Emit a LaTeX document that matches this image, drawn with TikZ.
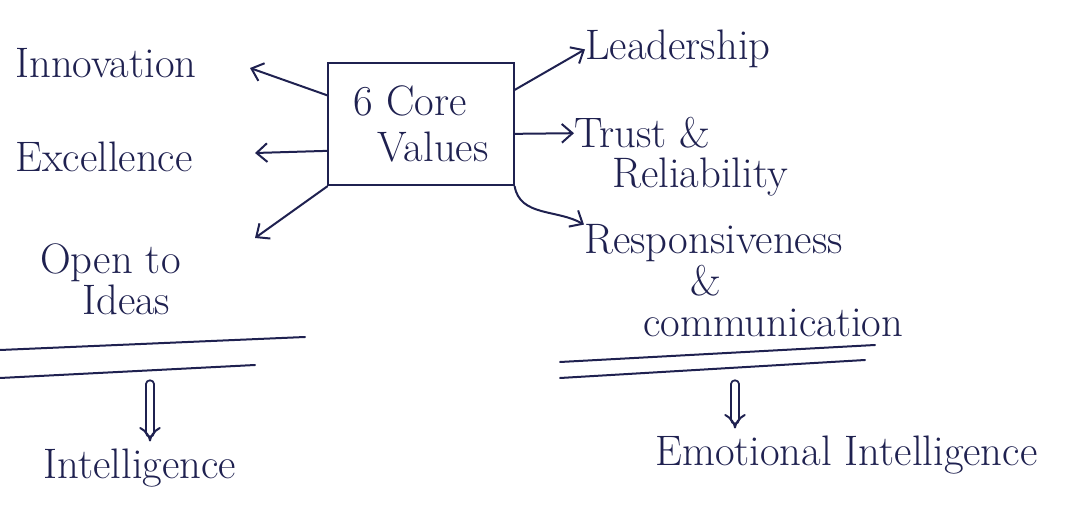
\documentclass[tikz,border=0pt]{standalone}
\usetikzlibrary{arrows.meta}
\definecolor{InkBlue}{HTML}{1F2150}
\tikzset{
  ink/.style={InkBlue,line width=1.5pt,line cap=round},
  value/.style={text=InkBlue,font=\fontsize{32}{36}\selectfont,inner sep=0pt,anchor=base west},
  barb/.style={-{Straight Barb[length=8pt,width=14pt]}},
  therefore/.style={ink,double,double distance=4pt,-Implies,shorten >=5pt}
}
\begin{document}
\begin{tikzpicture}[x=0.75pt,y=0.75pt,line cap=round]
  \useasboundingbox (0,0) rectangle (1068,504);
  \node[text=InkBlue,font=\fontsize{32}{36}\selectfont,align=left,draw=InkBlue,line width=1.5pt,
        minimum width=139pt,minimum height=92pt] (core) at (421,380) {6 Core\\[-2pt] \hspace*{18pt}Values};
  % left side
  \node[value] (innov) at (15,426) {Innovation};
  \node[value] (excel) at (15,332) {Excellence};
  \node[value] (open) at (40,230) {Open to};
  \node[value] (ideas) at (82,190) {Ideas};
  \coordinate (toinnov) at (250,436); \coordinate (toexcel) at (255,351); \coordinate (toopen) at (255,266);
  \draw[ink,barb] (core.163) -- (toinnov);
  \draw[ink,barb] (core.196) -- (toexcel);
  \draw[ink,barb] (core.south west) -- (toopen);
  % right side
  \node[value] (lead) at (585,444) {Leadership};
  \node[value] (trust) at (574,356) {Trust \&};
  \node[value] (relia) at (612,316) {Reliability};
  \node[value] (resp) at (584,250) {Responsiveness};
  \node[value] (amp) at (690,208) {\&};
  \node[value] (comm) at (643,167) {communication};
  \draw[ink,barb] (core.20) -- (lead.west);
  \draw[ink,barb] (core.354) -- (trust.west);
  \draw[ink,barb] (core.south east) to[out=-80,in=150] (resp.north west);
  % double rules and results
  \draw[ink] (0,154) -- (305,167); \draw[ink] (0,126) -- (255,139);
  \draw[ink] (560,142) -- (875,159); \draw[ink] (560,126) -- (865,144);
  \node[value,anchor=base] (intel) at (140,26) {Intelligence};
  \node[value] (emo) at (655,39) {Emotional Intelligence};
  \coordinate (lbar) at (150,120); \coordinate (rbar) at (735,120);
  \draw[therefore] (lbar) -- (lbar |- intel.north);
  \draw[therefore] (rbar) -- (rbar |- emo.north);
\end{tikzpicture}
\end{document}
